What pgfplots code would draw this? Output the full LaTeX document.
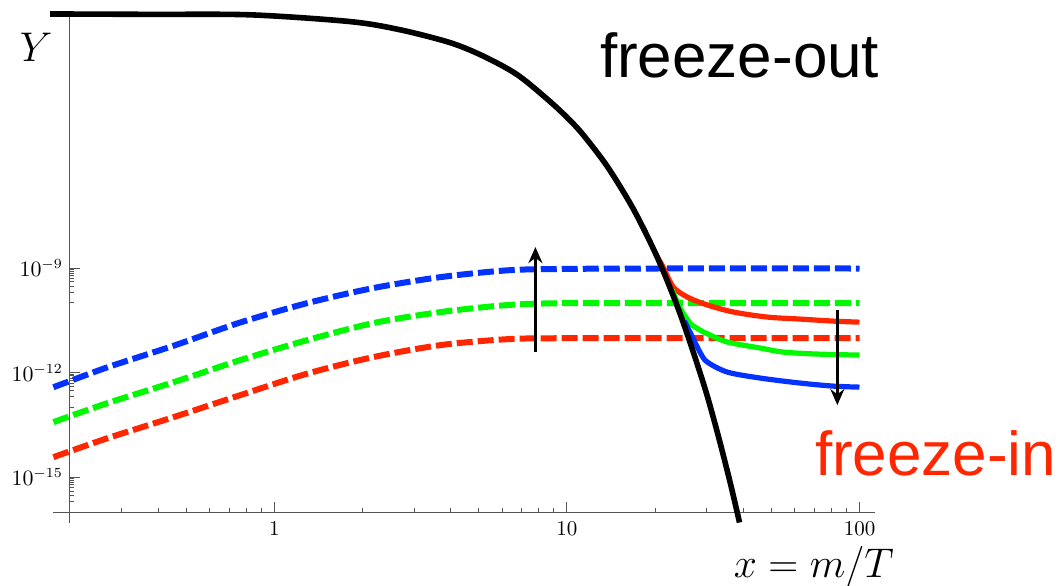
\documentclass[border=0pt]{standalone}
\usepackage{pgfplots}
\pgfplotsset{compat=1.18}
\usepackage{fontspec}
\newfontfamily\hv{Liberation Sans}
\usetikzlibrary{arrows.meta}
\definecolor{kblue}{RGB}{4,51,255}
\definecolor{kgreen}{RGB}{0,249,0}
\definecolor{kred}{RGB}{255,38,0}
\definecolor{axgray}{RGB}{85,85,85}

\begin{document}
\begin{tikzpicture}
\begin{axis}[
    xmode=log, ymode=log,
    scale only axis,
    width=402.5pt, height=248.5pt,
    xmin=0.2, xmax=113,
    ymin=1e-16, ymax=0.0182,
    clip=false,
    axis lines=left,
    axis line style={-, axgray, line width=0.5pt},
    tick style={axgray, line width=0.5pt},
    tick align=inside,
    major tick length=5pt,
    minor tick length=1.8pt,
    xtick={1,10,100},
    xticklabels={1,10,100},
    minor xtick={0.3,0.4,0.5,0.6,0.7,0.8,0.9,2,3,4,5,6,7,8,9,20,30,40,50,60,70,80,90},
    ytick={1e-15,1e-12,1e-9},
    minor ytick={2e-16,3e-16,4e-16,5e-16,6e-16,7e-16,8e-16,9e-16,
                 1e-13,2e-13,3e-13,4e-13,5e-13,6e-13,7e-13,8e-13,9e-13,
                 1e-10,2e-10,3e-10,4e-10,5e-10,6e-10,7e-10,8e-10,9e-10},
    tick label style={font=\fontsize{10.5}{12}\selectfont},
    xticklabel style={yshift=-1pt},
]
% freeze-in (dashed)
\addplot[kblue, line width=3pt, dash pattern=on 8pt off 2.5pt, smooth] coordinates {
 (0.1755,3.8e-13) (0.2685,1.42e-12) (0.452,5.9e-12) (0.765,2.75e-11) (1.297,9.9e-11)
 (2.18,2.67e-10) (3.70,5.5e-10) (6.26,8.6e-10) (9.5,9.4e-10) (20,9.7e-10) (100,9.7e-10)};
\addplot[kgreen, line width=3pt, dash pattern=on 8pt off 2.5pt, smooth] coordinates {
 (0.1755,3.8e-14) (0.2685,1.33e-13) (0.452,5.3e-13) (0.765,2.29e-12) (1.297,8.6e-12)
 (2.18,2.64e-11) (3.70,5.46e-11) (6.26,8.67e-11) (9.5,9.8e-11) (20,9.9e-11) (100,9.9e-11)};
\addplot[kred, line width=3pt, dash pattern=on 8pt off 2.5pt, smooth] coordinates {
 (0.1755,3.75e-15) (0.2685,1.31e-14) (0.452,5.27e-14) (0.765,2.26e-13) (1.297,9.4e-13)
 (2.18,2.79e-12) (3.70,6.15e-12) (6.26,9.1e-12) (9.5,9.7e-12) (20,9.8e-12) (100,9.8e-12)};
% freeze-out relics (solid)
\addplot[kred, line width=2.6pt, smooth, tension=0.5] coordinates {
 (20.07,2.6e-9) (21.4,1.0e-9) (23.1,2.84e-10) (25.8,1.47e-10) (30.2,8.7e-11)
 (37.1,5.46e-11) (48.4,3.92e-11) (62.8,3.43e-11) (81.5,3.0e-11) (100,2.8e-11)};
\addplot[kgreen, line width=2.6pt, smooth, tension=0.5] coordinates {
 (22.9,2.4e-10) (24.4,7.0e-11) (26.4,2.6e-11) (28.2,1.75e-11) (30.2,1.3e-11) (35.4,7.5e-12)
 (45.9,5.05e-12) (55.0,3.87e-12) (71.8,3.4e-12) (100,3.18e-12)};
\addplot[kblue, line width=2.6pt, smooth, tension=0.5] coordinates {
 (25.2,3.0e-11) (26.4,1.4e-11) (28.6,3.63e-12) (30.2,2.0e-12) (35.4,1.03e-12)
 (45.9,6.95e-13) (62.8,5.0e-13) (81.5,4.09e-13) (100,3.83e-13)};
% equilibrium curve
\addplot[black, line width=2.8pt, smooth] coordinates {
 (0.171,0.0195) (0.377,0.019) (0.828,0.0184) (1.82,0.01175) (2.70,6.8e-3) (4.00,2.9e-3)
 (5.19,1.19e-3) (6.78,3.47e-4) (8.79,5.8e-5) (10.28,1.67e-5) (11.4,6.4e-6) (13.75,8.1e-7)
 (16.87,4.9e-8) (20.4,1.95e-9) (24.4,4.7e-11) (29.3,4.8e-13) (32.7,1.86e-14) (36.2,6.6e-16)
 (38.9,5.0e-17)};
% arrows
\draw[line width=1.3pt, -{Stealth[length=8pt,width=7pt]}] (axis cs:7.8,3.9e-12) -- (axis cs:7.8,4.0e-9);
\draw[line width=1.3pt, -{Stealth[length=8pt,width=7pt]}] (axis cs:84,6.2e-11) -- (axis cs:84,1.17e-13);
% axis extensions
\draw[axgray, line width=0.5pt] (axis cs:0.175,1e-16) -- (axis cs:0.2,1e-16);
\draw[axgray, line width=0.5pt] (axis cs:0.2,1e-16) -- (axis cs:0.2,5e-17);
% labels
\node at (rel axis cs:-0.042,0.934) {\fontsize{20}{24}\selectfont$Y$};
\node at (rel axis cs:0.924,-0.111) {\fontsize{20}{24}\selectfont$x=m/T$};
\node[anchor=base west, inner sep=0pt] at (rel axis cs:0.658,0.875) {\hv\fontsize{31}{36}\selectfont freeze-out};
\node[anchor=base west, inner sep=0pt, text=kred] at (rel axis cs:0.925,0.0744) {\hv\fontsize{31}{36}\selectfont freeze-in};
\end{axis}
\pgfresetboundingbox
\path[use as bounding box] (-35pt,-36.5pt) rectangle (497pt,256pt);
\end{tikzpicture}
\end{document}
